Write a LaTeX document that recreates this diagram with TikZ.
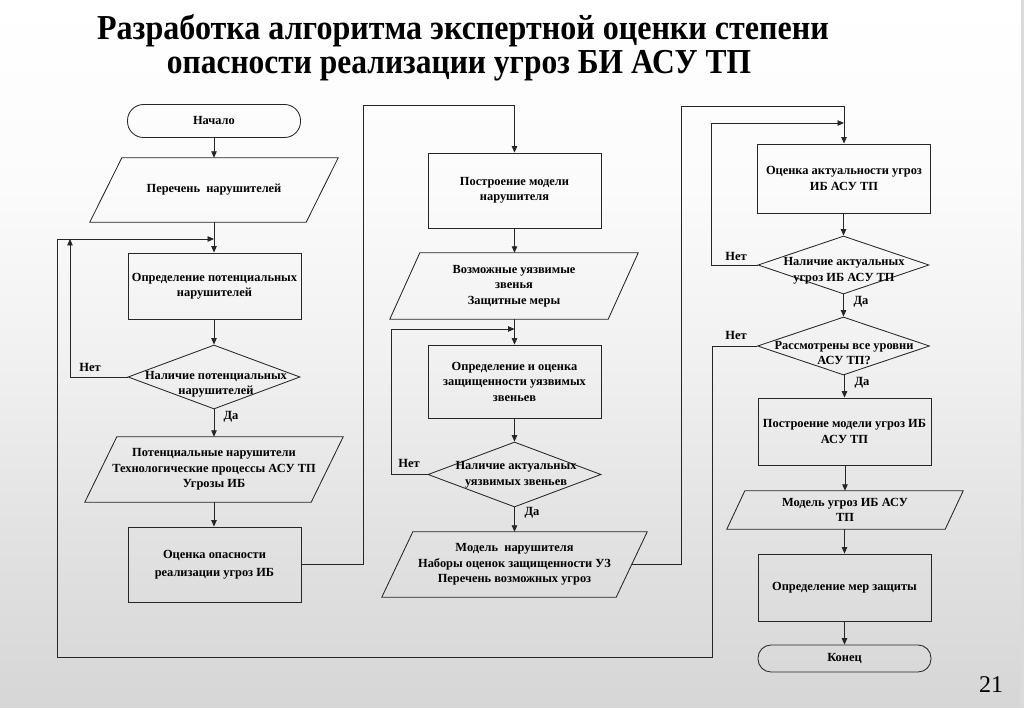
\documentclass[tikz,border=0pt]{standalone}
\usepackage{fontspec}
\setmainfont{Liberation Serif}
\usetikzlibrary{arrows.meta,shapes.geometric,calc}
\definecolor{bgB}{gray}{0.84}
\definecolor{bgM}{gray}{0.885}
\definecolor{bgL}{gray}{0.945}
\definecolor{bgT}{gray}{0.985}
\pgfdeclareverticalshading{slidebg}{100bp}{color(0bp)=(bgB); color(25bp)=(bgB); color(37bp)=(bgM); color(50bp)=(bgL); color(62bp)=(bgT); color(75bp)=(white); color(100bp)=(white)}
\newcommand\bxfont{\fontsize{12.4pt}{15.5pt}\selectfont\bfseries}
\newcommand\paradraw[2]{\draw[ln] ([xshift=#2pt]#1.north west) -- (#1.north east) -- ([xshift=-#2pt]#1.south east) -- (#1.south west) -- cycle;}
\tikzset{
  ln/.style={line width=0.85pt, draw=black!85},
  arr/.style={-{Triangle[length=6.5pt,width=5.5pt]}},
  proc/.style={ln, minimum width=173pt, inner sep=0pt, align=center, font=\bxfont},
  term/.style={proc, rounded corners=13pt},
  paranode/.style={inner sep=0pt, align=center, font=\bxfont},
  dia/.style={ln, diamond, inner sep=0pt},
  dtext/.style={inner sep=0pt, align=center, font=\bxfont},
  lbl/.style={inner sep=0pt, font=\fontsize{12.5pt}{14pt}\selectfont\bfseries},
  ttl/.style={inner sep=0pt, font=\fontsize{35pt}{40pt}\selectfont\bfseries}
}
\begin{document}
\begin{tikzpicture}[x=1pt,y=-1pt]
\shade[shading=slidebg] (0,0) rectangle (1024,708);
\fill[black!14] (1020.5,0) rectangle (1024,708);

% title
\node[ttl, anchor=base] (title1) at (463,40) {\scalebox{0.916}[1]{Разработка алгоритма экспертной оценки степени}};
\node[ttl, anchor=base] (title2) at (459,74) {\scalebox{0.9}[1]{опасности реализации угроз БИ АСУ ТП}};

% left column
\node[term, minimum height=33pt, rounded corners=16pt] (start) at (214,121) {Начало};
\node[paranode, minimum width=248pt, minimum height=64pt] (p1) at (214,190) {Перечень\ \ нарушителей};
\paradraw{p1}{32}
\node[proc, minimum height=66pt] (b1) at (214.5,286) {Определение потенциальных\\нарушителей};
\node[dia, minimum width=172pt, minimum height=64pt] (d1) at (214,377) {};
\node[dtext] (d1t) at (216,384.5) {Наличие потенциальных\\нарушителей};
\node[paranode, minimum width=258pt, minimum height=65pt] (p2) at (214,469.5) {Потенциальные нарушители\\Технологические процессы АСУ ТП\\Угрозы ИБ};
\paradraw{p2}{32}
\node[proc, minimum height=75pt] (b2) at (214.5,564.5) {Оценка опасности\\[2pt]реализации угроз ИБ};

% middle column
\node[proc, minimum height=75pt] (b3) at (514.5,190.5) {Построение модели\\нарушителя};
\node[paranode, minimum width=248pt, minimum height=66pt] (p3) at (514,286) {Возможные уязвимые\\звенья\\Защитные меры};
\paradraw{p3}{30}
\node[proc, minimum height=73pt] (b4) at (514.5,381.5) {Определение и оценка\\защищенности уязвимых\\звеньев};
\node[dia, minimum width=173pt, minimum height=65pt] (d2) at (514.5,474.5) {};
\node[dtext] (d2t) at (516,475) {Наличие актуальных\\уязвимых звеньев};
\node[paranode, minimum width=265pt, minimum height=65pt] (p4) at (514.5,564.5) {Модель\ \ нарушителя\\Наборы оценок защищенности УЗ\\Перечень возможных угроз};
\paradraw{p4}{31}

% right column
\node[proc, minimum height=69pt] (b5) at (844,178.5) {Оценка актуальности угроз\\ИБ АСУ ТП};
\node[dia, minimum width=171pt, minimum height=58pt] (d3) at (843.5,265) {};
\node[dtext] (d3t) at (844,271) {Наличие актуальных\\угроз ИБ АСУ ТП};
\node[dia, minimum width=172pt, minimum height=58pt] (d4) at (843.5,346) {};
\node[dtext] (d4t) at (844,353) {Рассмотрены все уровни\\АСУ ТП?};
\node[proc, minimum height=67pt] (b6) at (844.5,431.5) {Построение модели угроз ИБ\\АСУ ТП};
\node[paranode, minimum width=236pt, minimum height=38pt] (p5) at (845,510) {Модель угроз ИБ АСУ\\ТП};
\paradraw{p5}{18}
\node[proc, minimum height=67pt] (b7) at (844.5,587.5) {Определение мер защиты};
\node[term, minimum height=27pt] (stop) at (844.5,658.5) {Конец};

% page number
\node[inner sep=0pt, font=\fontsize{24pt}{24pt}\selectfont] (pg) at (991,685) {21};

% straight connectors
\draw[ln,arr] (start.south) -- (p1.north);
\draw[ln,arr] (p1.south) -- (b1.north -| p1.south);
\draw[ln,arr] (b1.south -| d1.north) -- (d1.north);
\draw[ln,arr] (d1.south) -- (p2.north);
\draw[ln,arr] (p2.south) -- (b2.north -| p2.south);
\draw[ln,arr] (b3.south) -- (p3.north -| b3.south);
\draw[ln,arr] (p3.south -| b4.north) -- (b4.north);
\draw[ln,arr] (b4.south) -- (d2.north -| b4.south);
\draw[ln,arr] (d2.south) -- (p4.north);
\draw[ln,arr] (b5.south -| d3.north) -- (d3.north);
\draw[ln,arr] (d3.south) -- (d4.north);
\draw[ln,arr] (d4.south -| b6.north) -- (b6.north);
\draw[ln,arr] (b6.south -| p5.north) -- (p5.north);
\draw[ln,arr] (p5.south -| b7.north) -- (b7.north);
\draw[ln,arr] (b7.south) -- (stop.north);

% junction coordinates
\coordinate (L1) at (70,239);
\coordinate (J1) at (214,239);
\coordinate (J2) at (514.5,329);
\coordinate (J3) at (844,123);
\coordinate (c1) at (363,105);
\coordinate (c2) at (681,106);
\coordinate (c3) at (391,329);
\coordinate (c4) at (711,123);
\coordinate (c5) at (712,657);
\coordinate (c6) at (57,239);

% loops
\draw[ln,arr] (d1.west) -| (L1);
\draw[ln,arr] (d4.west) -| (c5) -| (c6) -- (J1);
\draw[ln,arr] (b2.east) -| (c1) -| (b3.north);
\draw[ln,arr] ([xshift=-15.5pt]p4.east) -| (c2) -| (b5.north);
\draw[ln,arr] (d2.west) -| (c3) -- (J2);
\draw[ln,arr] (d3.west) -| (c4) -- (J3);

% labels
\node[lbl] (net1) at (90,367) {Нет};
\node[lbl] (da1) at (231,417) {Да};
\node[lbl] (net2) at (409,463) {Нет};
\node[lbl] (da2) at (532,513) {Да};
\node[lbl] (net3) at (736,256) {Нет};
\node[lbl] (da3) at (861,302) {Да};
\node[lbl] (net4) at (736,335) {Нет};
\node[lbl] (da4) at (862,383) {Да};
\end{tikzpicture}
\end{document}
